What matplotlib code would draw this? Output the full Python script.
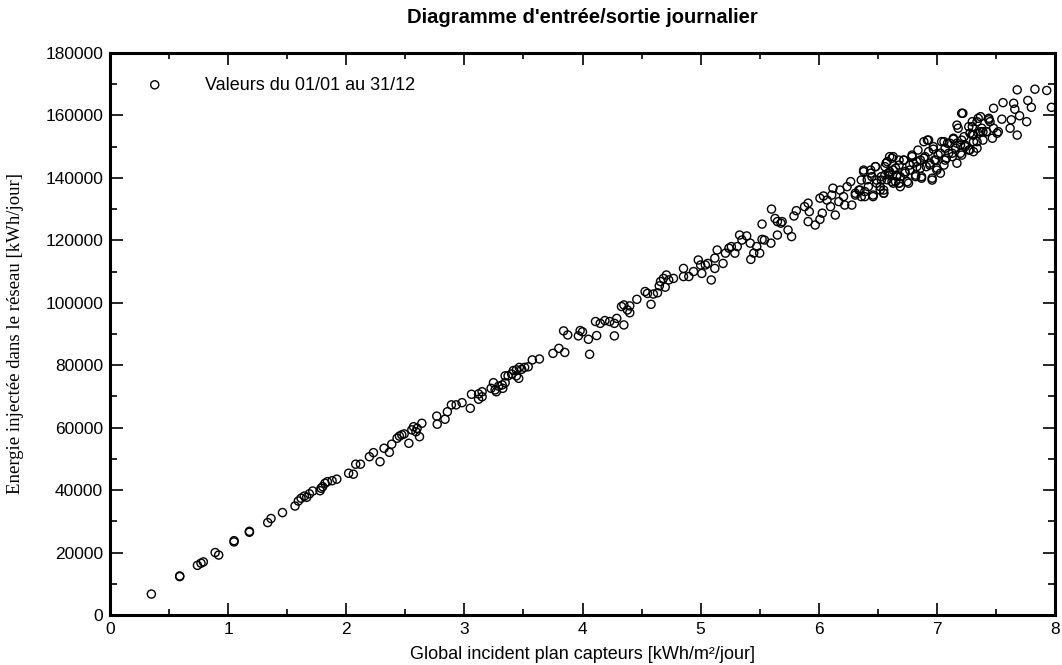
import matplotlib
matplotlib.use("Agg")
import matplotlib.pyplot as plt
from matplotlib.ticker import MultipleLocator

# global irradiation on collector plane [kWh/m2/day]
glob_inc = [
    0.35, 0.59, 0.59, 0.74, 0.79, 0.77, 0.89, 0.92, 1.05, 1.05, 1.18, 1.18,
    1.335, 1.363, 1.46, 1.566, 1.594, 1.617, 1.645, 1.665, 1.688, 1.716,
    1.778, 1.787, 1.80, 1.82, 1.84, 1.88, 1.92, 2.02, 2.06, 2.08, 2.12,
    2.196, 2.23, 2.286, 2.32, 2.365, 2.385, 2.43, 2.45,
    2.47, 2.49, 2.53, 2.555, 2.57, 2.59, 2.60, 2.62, 2.64, 2.766, 2.77,
    2.836, 2.856, 2.89, 2.93, 2.98, 3.05, 3.06, 3.12, 3.12, 3.15, 3.15,
    3.226, 3.246, 3.26, 3.27, 3.29, 3.32, 3.325, 3.345, 3.345, 3.37, 3.40,
    3.415, 3.44, 3.46, 3.44, 3.465, 3.485, 3.51, 3.54, 3.575, 3.635, 3.75,
    3.80, 3.85, 3.84, 3.875, 3.965, 3.98,
    4.00, 4.05, 4.12, 4.11, 4.15, 4.19, 4.23, 4.27, 4.29, 4.35, 4.27, 4.06,
    4.33, 4.35, 4.38, 4.40, 4.40, 4.46, 4.53, 4.55, 4.58, 4.60, 4.635, 4.65,
    4.66, 4.685, 4.71, 4.70, 4.73, 4.77, 4.855, 4.855, 4.90, 4.94, 4.98,
    5.00, 5.01, 5.04, 5.06, 5.09, 5.12, 5.14, 5.19, 5.12, 5.21, 5.24, 5.26,
    5.29, 5.31, 5.33, 5.35, 5.39, 5.42, 5.425, 5.45, 5.475, 5.50, 5.52,
    5.54, 5.595, 5.52, 5.60, 5.63, 5.65, 5.68, 5.65,
    5.69, 5.74, 5.77, 5.79, 5.81, 5.88, 5.91, 5.92, 5.91, 5.97, 6.01, 6.03,
    6.01, 6.04, 6.07, 6.10, 6.11, 6.12, 6.14, 6.17, 6.18, 6.21, 6.22, 6.24,
    6.27, 6.28, 6.31, 6.35, 6.36, 6.38, 6.39, 6.42, 6.44, 6.46, 6.48, 6.49,
    6.52, 6.53, 6.55, 6.57, 6.59, 6.60, 6.62, 6.65, 6.66, 6.68, 6.68,
    6.53, 6.55, 6.56, 6.58, 6.60, 6.63, 6.63, 6.66, 6.68, 6.69, 6.72, 6.73,
    6.75, 6.77, 6.79, 6.82, 6.83, 6.84, 6.86, 6.87, 6.89, 6.92, 6.93, 6.94,
    6.96, 6.97, 6.99, 7.00, 7.03, 7.04, 7.06, 7.07, 7.08, 7.11, 7.13, 7.14,
    7.16, 7.17, 7.20, 7.21, 7.23, 7.24, 7.27, 7.28, 7.30, 7.31, 7.34, 7.34,
    7.35, 7.37, 7.38, 7.39, 7.42, 7.44, 7.17, 7.21,
    7.30, 7.31, 7.34, 7.35, 7.37, 7.39, 7.42, 7.44, 7.45, 7.47, 7.48, 7.48,
    7.51, 7.52, 7.55, 7.56, 7.62, 7.63, 7.65, 7.66, 7.68, 7.68, 7.70, 7.76,
    7.77, 7.80, 7.83, 7.93, 7.97,
    6.31, 6.34, 6.36, 6.38, 6.39, 6.41, 6.44, 6.45, 6.46, 6.48, 6.49, 6.52,
    6.55, 6.56, 6.58, 6.60, 6.62, 6.63, 6.65, 6.68, 6.69, 6.72, 6.73, 6.76,
    6.77, 6.79, 6.80, 6.82, 6.83, 6.86, 6.87, 6.89, 6.90, 6.91, 6.93, 6.94,
    6.96, 6.97, 6.98, 7.00, 7.01, 7.03, 7.06, 7.07, 7.09, 7.10, 7.13, 7.14,
    7.17, 7.18, 7.20, 7.21, 7.22, 7.24, 7.27, 7.28, 7.30, 7.31,
]

# energy injected into grid [MWh/day, scaled to kWh below]
e_grid = [
    6.7, 12.5, 12.3, 15.9, 17.0, 16.6, 20.0, 19.2, 23.8, 23.4, 26.5, 26.8,
    29.6, 30.9, 32.8, 34.9, 36.5, 37.4, 38.1, 37.7, 38.8, 39.7,
    39.8, 40.6, 41.1, 42.2, 42.7, 43.0, 43.5, 45.4, 45.1, 48.3, 48.3,
    50.7, 52.0, 49.1, 53.4, 52.1, 54.7, 56.6, 57.3,
    57.7, 58.0, 55.0, 59.3, 60.3, 58.7, 59.8, 57.1, 61.4, 63.7, 61.1,
    62.7, 65.1, 67.3, 67.3, 68.0, 66.2, 70.7, 69.1, 70.8, 69.9, 71.5,
    72.6, 74.4, 72.1, 71.5, 73.3, 73.7, 72.6, 74.4, 76.6, 76.6, 77.2,
    78.3, 76.6, 75.8, 78.5, 79.3, 78.7, 79.3, 79.5, 81.7, 82.0, 83.8,
    85.4, 84.1, 91.0, 89.7, 89.4, 91.1,
    90.7, 88.3, 89.5, 94.0, 93.4, 94.3, 94.0, 93.4, 95.0, 92.9, 89.4, 83.5,
    98.8, 99.3, 97.7, 99.0, 96.8, 101.1, 103.6, 103.0, 99.5, 102.8, 103.2, 105.4,
    106.8, 107.8, 108.9, 105.0, 107.3, 107.8, 111.0, 108.4, 108.4, 110.0, 113.7,
    112.1, 109.4, 112.1, 112.6, 107.3, 114.3, 116.9, 112.6, 111.0, 115.9, 117.5, 118.0,
    115.9, 118.0, 121.7, 120.1, 121.4, 119.1, 113.9, 115.9, 118.0, 115.9, 120.3,
    120.1, 119.1, 125.2, 130.0, 127.0, 126.0, 125.5, 121.7,
    126.0, 123.3, 121.2, 127.8, 129.5, 130.8, 131.9, 129.2, 126.0, 124.9, 126.7, 128.7,
    133.5, 134.2, 132.9, 130.8, 134.5, 136.7, 128.1, 132.4, 136.1, 134.0, 131.3, 137.2,
    138.8, 131.3, 135.1, 136.1, 139.3, 142.0, 134.0, 137.2, 141.5, 134.5, 143.6, 139.3,
    136.1, 140.4, 135.1, 144.7, 141.5, 146.8, 138.8, 143.1, 140.4, 145.7, 138.3,
    139.3, 136.1, 143.6, 145.2, 142.0, 146.8, 138.3, 140.9, 144.1, 137.2, 145.7, 142.0,
    138.8, 144.1, 147.3, 140.4, 145.2, 148.9, 143.1, 139.9, 146.3, 152.1, 148.4, 144.1,
    139.3, 150.0, 145.7, 142.5, 147.9, 151.6, 144.1, 149.5, 146.3, 151.1, 147.9, 152.7,
    149.5, 144.7, 150.5, 147.3, 153.2, 150.5, 148.9, 154.3, 156.4, 151.6, 149.5, 158.0,
    154.3, 159.6, 155.9, 152.1, 154.8, 158.6, 156.9, 160.7,
    158.0, 153.7, 151.6, 159.1, 154.8, 154.8, 154.8, 159.1, 158.0, 152.7, 162.3, 155.9,
    154.3, 154.8, 158.8, 164.1, 155.9, 158.6, 163.9, 162.0, 168.2, 153.7, 159.9, 158.0,
    164.8, 162.6, 168.4, 168.0, 162.6,
    134.5, 136.1, 134.0, 142.5, 135.6, 139.4, 142.5, 140.4, 134.0, 143.6, 138.3, 137.2,
    135.1, 140.9, 139.4, 140.9, 146.3, 142.5, 138.8, 138.3, 140.4, 145.7, 141.5, 138.3,
    142.5, 146.8, 144.7, 140.9, 143.6, 145.7, 140.4, 151.6, 146.8, 143.6, 152.1, 144.7,
    139.9, 149.2, 145.7, 143.1, 147.4, 141.5, 151.6, 145.7, 151.1, 147.9, 146.8, 152.4,
    151.1, 155.9, 147.9, 152.1, 160.7, 150.0, 156.4, 149.0, 153.8, 148.4,
]
e_grid = [v * 1000 for v in e_grid]

fig = plt.figure(figsize=(10.62, 6.65), dpi=100)
ax = fig.add_axes([0.1036, 0.0752, 0.8898, 0.8451])

ax.scatter(glob_inc, e_grid, s=34, facecolors="none", edgecolors="black",
           linewidths=1.0, label="Valeurs du 01/01 au 31/12", zorder=3)

ax.set_xlim(0, 8)
ax.set_ylim(0, 180000)
ax.xaxis.set_major_locator(MultipleLocator(1))
ax.xaxis.set_minor_locator(MultipleLocator(0.5))
ax.yaxis.set_major_locator(MultipleLocator(20000))
ax.yaxis.set_minor_locator(MultipleLocator(10000))

for s in ax.spines.values():
    s.set_linewidth(2.2)

ax.tick_params(axis="both", which="both", direction="in", top=True, right=True,
               labelfontfamily="Liberation Sans", labelsize=12.5, colors="black")
ax.tick_params(axis="y", which="major", length=9, width=1.2, pad=5)
ax.tick_params(axis="y", which="minor", length=5, width=1.2)
ax.tick_params(axis="x", which="major", length=8.5, width=1.2, pad=5)
ax.tick_params(axis="x", which="minor", length=4.5, width=1.2)

fig.text(0.5483, 0.973, "Diagramme d'entrée/sortie journalier", ha="center", va="center",
         fontsize=14.5, fontweight="bold", family="Liberation Sans")
fig.text(0.5483, 0.016, "Global incident plan capteurs [kWh/m²/jour]", ha="center", va="center",
         fontsize=13, family="Liberation Sans")
fig.text(0.015, 0.499, "Energie injectée dans le réseau [kWh/jour]", ha="center", va="center",
         rotation=90, fontsize=13.5, family="Liberation Serif")

leg = ax.legend(loc="upper left", bbox_to_anchor=(0.011, 0.987), frameon=False,
                handletextpad=1.8, prop={"family": "Liberation Sans", "size": 13})

fig.savefig("out.png", dpi=100)
